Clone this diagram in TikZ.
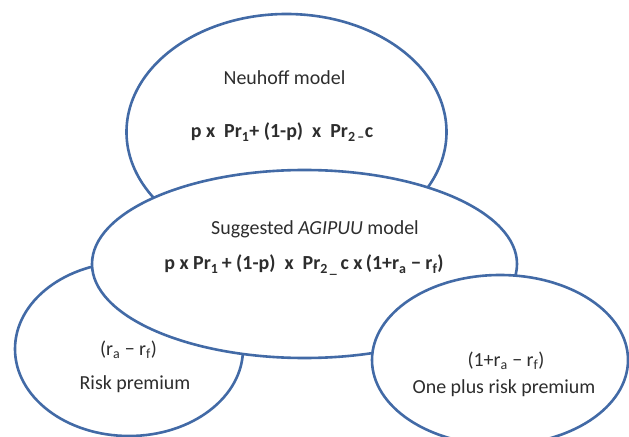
\documentclass[tikz,border=0pt]{standalone}
\usepackage{fontspec}
\setmainfont{Carlito}
\usetikzlibrary{shapes.geometric}
\definecolor{edgeblue}{RGB}{66,106,166}
\definecolor{txt}{RGB}{45,45,45}
\tikzset{
  blob/.style={ellipse, draw=edgeblue, line width=2.6bp, fill=white, inner sep=0pt},
  lbl/.style={anchor=base, inner sep=0pt, text=txt, font=\fontsize{20}{24}\selectfont},
  frm/.style={anchor=base, inner sep=0pt, text=txt, font=\fontsize{20}{24}\selectfont\bfseries}
}
\begin{document}
\begin{tikzpicture}[x=1bp,y=-1bp]
\useasboundingbox (0,0) rectangle (629,437);
\node[blob, minimum width=320bp, minimum height=236bp] (neuhoff) at (286.5,132) {};
\node[blob, minimum width=228bp, minimum height=174bp] (risk) at (129,349) {};
\node[blob, minimum width=425bp, minimum height=188bp] (agipuu) at (304.5,264) {};
\node[blob, minimum width=256bp, minimum height=170bp] (oneplus) at (500,360) {};
\node[lbl] (t1) at (284.5,85) {Neuhoff model};
\node[frm] (f1) at (282,138) {p x\ \ Pr\textsubscript{1}+ (1-p)\ \ x\ \ Pr\textsubscript{2\,–}c};
\node[lbl] (t2) at (315,235) {Suggested \textit{AGIPUU} model};
\node[frm] (f2) at (304,270) {p x\ Pr\textsubscript{1}\,+ (1-p)\ \ x\ \ Pr\textsubscript{2\,\_}\,c\ x\,(1+r\textsubscript{a} − r\textsubscript{f})};
\node[lbl] (t3) at (128.5,355) {(r\textsubscript{a} − r\textsubscript{f})};
\node[lbl] (t4) at (135,389) {Risk premium};
\node[lbl] (t5) at (506,366) {(1+r\textsubscript{a} − r\textsubscript{f})};
\node[lbl] (t6) at (504,393) {One plus risk premium};
\end{tikzpicture}
\end{document}
